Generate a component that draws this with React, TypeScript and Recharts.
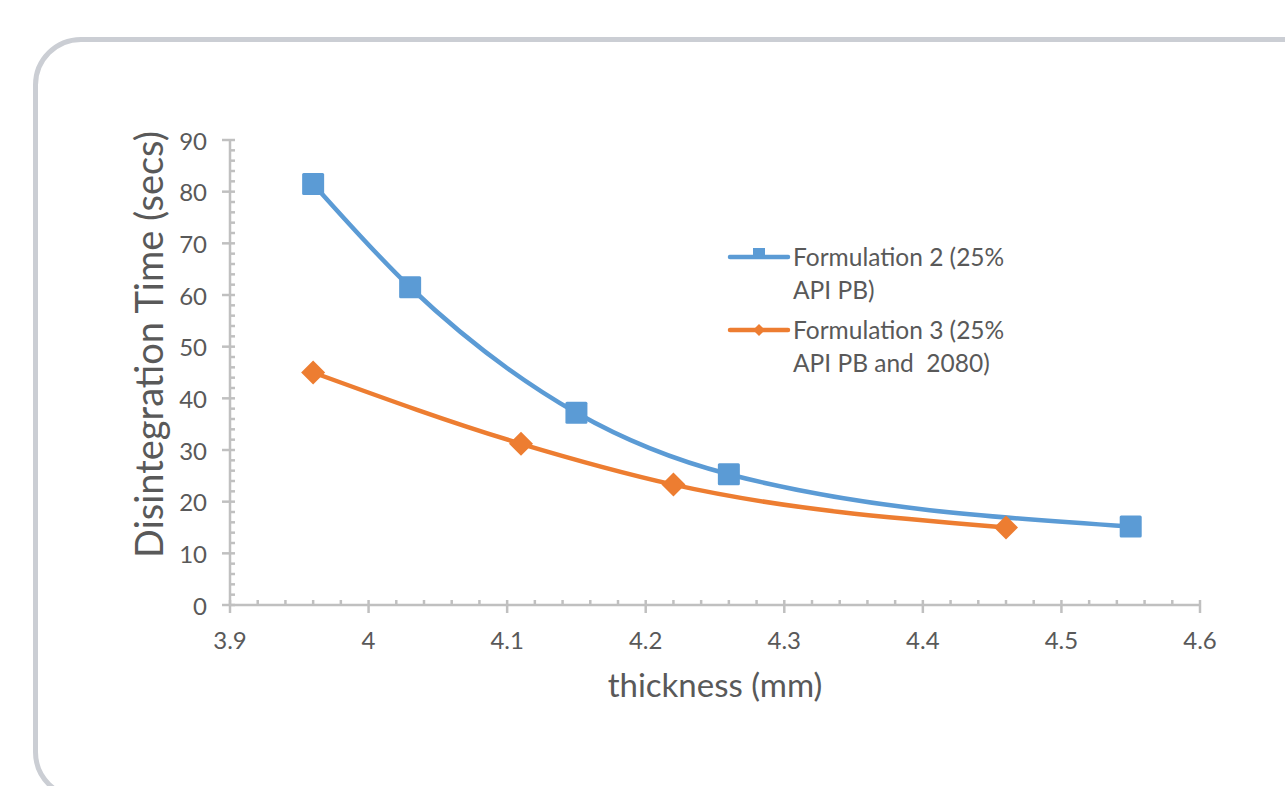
import { LineChart, Line, XAxis, YAxis, Legend } from "recharts";

const formulation2X = [3.96, 4.03, 4.15, 4.26, 4.55];
const formulation2Y = [81.5, 61.5, 37.2, 25.3, 15.2];
const formulation3X = [3.96, 4.11, 4.22, 4.46];
const formulation3Y = [45, 31.2, 23.3, 15];

const xMajorTicks = [3.9, 4, 4.1, 4.2, 4.3, 4.4, 4.5, 4.6];
const yMajorTicks = [0, 10, 20, 30, 40, 50, 60, 70, 80, 90];
const X_MINOR_PER_MAJOR = 5;
const Y_MINOR_PER_MAJOR = 5;

const seriesNames = [
  ["Formulation 2 (25%", "API PB)"],
  ["Formulation 3 (25%", "API PB and  2080)"],
];

const BLUE = "#5B9BD5";
const ORANGE = "#ED7D31";
const AXIS = "#C0C0C0";
const TEXT = "#595959";
const FONT = "Lato, 'Open Sans', sans-serif";

const f2 = formulation2X.map((x, i) => ({ x, y: formulation2Y[i] }));
const f3 = formulation3X.map((x, i) => ({ x, y: formulation3Y[i] }));

// minor subdivisions between major ticks (axis decoration only)
function withMinor(majors: number[], n: number) {
  const out: number[] = [];
  for (let i = 0; i < majors.length - 1; i++) {
    const step = (majors[i + 1] - majors[i]) / n;
    for (let k = 0; k < n; k++) out.push(+(majors[i] + step * k).toFixed(6));
  }
  out.push(majors[majors.length - 1]);
  return out;
}
const xTicks = withMinor(xMajorTicks, X_MINOR_PER_MAJOR);
const yTicks = withMinor(yMajorTicks, Y_MINOR_PER_MAJOR);

const isMajor = (v: number, majors: number[]) =>
  majors.some((m) => Math.abs(m - v) < 1e-6);

const XTick = (props: any) => {
  const { x, y, payload } = props;
  const major = isMajor(payload.value, xMajorTicks);
  return (
    <g>
      <line x1={x} x2={x} y1={y - 5} y2={major ? y + 8 : y} stroke={AXIS} strokeWidth={2.5} />
      {major && (
        <text x={x} y={y + 44} textAnchor="middle" fill={TEXT} fontSize={24} fontFamily={FONT}>
          {String(+payload.value.toFixed(1))}
        </text>
      )}
    </g>
  );
};

const YTick = (props: any) => {
  const { x, y, payload } = props;
  const major = isMajor(payload.value, yMajorTicks);
  return (
    <g>
      <line x1={major ? x - 8 : x} x2={x + 5} y1={y} y2={y} stroke={AXIS} strokeWidth={2.5} />
      {major && (
        <text x={x - 23} y={y} textAnchor="end" dominantBaseline="central" fill={TEXT} fontSize={24} fontFamily={FONT}>
          {payload.value}
        </text>
      )}
    </g>
  );
};

const SquareDot = (p: any) => (
  <rect key={`s-${p.index}`} x={p.cx - 11} y={p.cy - 11} width={22} height={22} rx={1.5} fill={BLUE} />
);

const DiamondDot = (p: any) => (
  <polygon
    key={`d-${p.index}`}
    points={`${p.cx},${p.cy - 12} ${p.cx + 12},${p.cy} ${p.cx},${p.cy + 12} ${p.cx - 12},${p.cy}`}
    fill={ORANGE}
  />
);

const YTitle = (props: any) => {
  const { x, y, height } = props.viewBox;
  const cx = x + 38;
  const cy = y + height / 2 - 28;
  return (
    <text
      x={cx}
      y={cy}
      transform={`rotate(-90 ${cx} ${cy})`}
      textAnchor="middle"
      dominantBaseline="central"
      fill={TEXT}
      fontSize={38}
      fontFamily={FONT}
    >
      Disintegration Time (secs)
    </text>
  );
};

const XTitle = (props: any) => {
  const { x, y, width } = props.viewBox;
  return (
    <text x={x + width / 2} y={y + 92} textAnchor="middle" fill={TEXT} fontSize={33} fontFamily={FONT}>
      thickness (mm)
    </text>
  );
};

const LegendBox = () => {
  const colors = [BLUE, ORANGE];
  return (
    <div style={{ fontFamily: FONT, fontSize: 24.5, color: TEXT, lineHeight: "33px" }}>
      {seriesNames.map((lines, i) => (
        <div key={i} style={{ display: "flex", alignItems: "flex-start", marginBottom: i === 0 ? 7 : 0 }}>
          <svg width={66} height={33} style={{ flex: "none" }}>
            <line x1={3} x2={61} y1={17} y2={17} stroke={colors[i]} strokeWidth={4.5} strokeLinecap="round" />
            {i === 0 ? (
              <rect x={26} y={8} width={12} height={11} fill={BLUE} />
            ) : (
              <polygon points="32,11 38,17 32,23 26,17" fill={ORANGE} />
            )}
          </svg>
          <div style={{ whiteSpace: "pre" }}>
            {lines.map((l, j) => (
              <div key={j}>{l}</div>
            ))}
          </div>
        </div>
      ))}
    </div>
  );
};

export default function App() {
  return (
    <div style={{ position: "absolute", left: 0, top: 0, width: 1285, height: 786, overflow: "hidden", background: "#fff" }}>
      <div
        style={{
          position: "absolute",
          left: 33,
          top: 37,
          width: 1320,
          height: 763,
          border: "5px solid #CBCED4",
          borderRadius: 48,
          boxSizing: "border-box",
        }}
      />
      <div style={{ position: "absolute", left: 0, top: 0 }}>
        <LineChart
          width={1285}
          height={786}
          margin={{ top: 140, right: 85, left: 110, bottom: 81 }}
        >
          <XAxis
            type="number"
            dataKey="x"
            domain={[3.9, 4.6]}
            ticks={xTicks}
            interval={0}
            tick={<XTick />}
            tickLine={false}
            tickSize={0}
            tickMargin={0}
            axisLine={{ stroke: AXIS, strokeWidth: 2.5 }}
            height={100}
            allowDataOverflow
            label={<XTitle />}
          />
          <YAxis
            type="number"
            domain={[0, 90]}
            ticks={yTicks}
            interval={0}
            tick={<YTick />}
            tickLine={false}
            tickSize={0}
            tickMargin={0}
            axisLine={{ stroke: AXIS, strokeWidth: 2.5 }}
            width={120}
            allowDataOverflow
            label={<YTitle />}
          />
          <Legend
            layout="horizontal"
            verticalAlign="middle"
            align="center"
            content={<LegendBox />}
            wrapperStyle={{ position: "absolute", left: 727, top: 240, width: 320 }}
          />
          <Line
            data={f2}
            dataKey="y"
            name="Formulation 2 (25% API PB)"
            type="monotone"
            stroke={BLUE}
            strokeWidth={4.5}
            dot={SquareDot}
            activeDot={false}
            isAnimationActive={false}
          />
          <Line
            data={f3}
            dataKey="y"
            name="Formulation 3 (25% API PB and  2080)"
            type="monotone"
            stroke={ORANGE}
            strokeWidth={4.5}
            dot={DiamondDot}
            activeDot={false}
            isAnimationActive={false}
          />
        </LineChart>
      </div>
    </div>
  );
}
